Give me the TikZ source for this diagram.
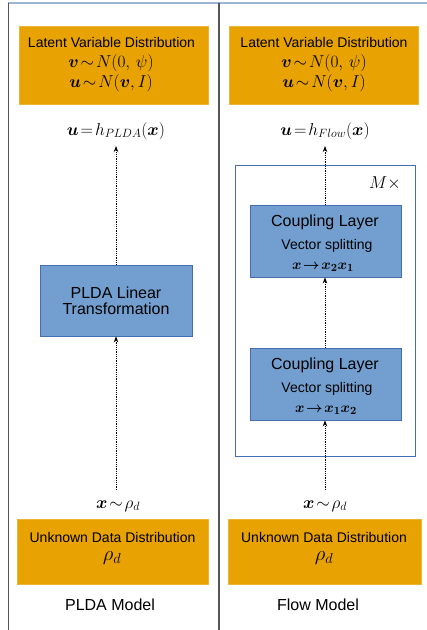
\documentclass[tikz,border=0pt]{standalone}
\usepackage{amsmath,bm}
\usepackage{fontspec}
\setmainfont{Liberation Sans}
\usetikzlibrary{arrows.meta}
\definecolor{orng}{RGB}{232,162,2}
\definecolor{bfill}{RGB}{114,159,207}
\definecolor{bline}{RGB}{70,110,175}
\definecolor{topline}{RGB}{157,180,212}
\definecolor{vline}{RGB}{85,85,85}
\tikzset{
  distbox/.style={fill=orng, draw=orng!80!white, line width=0.6pt, inner sep=0pt},
  bluebox/.style={fill=bfill, draw=bline, line width=0.8pt, inner sep=0pt},
  flowarrow/.style={densely dotted, line width=0.8pt, -{Stealth[length=6pt,width=4.5pt]}},
  txt14/.style={inner sep=0pt, font=\fontsize{14}{16}\selectfont},
  txt16/.style={inner sep=0pt, font=\fontsize{16}{18}\selectfont},
  mth/.style={inner sep=0pt, font=\fontsize{17}{19}\selectfont},
}
\begin{document}
\begin{tikzpicture}[x=1pt,y=-1pt]
\useasboundingbox (0,0) rectangle (427,630);
% frame
\draw[topline, line width=2pt] (8,3) -- (427,3);
\draw[vline, line width=1.5pt] (8.5,3) -- (8.5,630);
\draw[vline, line width=1.5pt] (219,3) -- (219,630);

% ===== left panel =====
\node[distbox, minimum width=189pt, minimum height=78pt] (lat1) at (113.5,65) {};
\node[txt14] (lat1t) at (111.5,42) {Latent Variable Distribution};
\node[mth] (lat1a) at (111,63.5) {$\bm{v}\!\sim\! N(0,\,\psi)$};
\node[mth] (lat1b) at (111,83) {$\bm{u}\!\sim\! N(\bm{v},I)$};
\node[mth] (u1) at (116,131) {$\bm{u}\!=\!h_{PLDA}(\bm{x})$};
\node[bluebox, minimum width=152pt, minimum height=71pt] (plda) at (116,300.5) {};
\node[txt16, align=center] (pldat) at (116,301) {PLDA Linear\\[-2pt]Transformation};
\node[mth] (x1) at (118,506) {$\bm{x}\!\sim\!\rho_d$};
\node[distbox, minimum width=191pt, minimum height=65pt] (unk1) at (112.5,551.5) {};
\node[txt14] (unk1t) at (112.5,537) {Unknown Data Distribution};
\node[font=\fontsize{21}{22}\selectfont, inner sep=0pt] (unk1r) at (112,558) {$\rho_d$};
\node[txt16] (m1) at (110,605) {PLDA Model};
\coordinate (x1top) at (116,490);
\coordinate (u1bot) at (116,146);
\draw[flowarrow] (x1top) -- (plda.south -| x1top);
\draw[flowarrow] (plda.north -| u1bot) -- (u1bot);

% ===== right panel =====
\node[distbox, minimum width=189pt, minimum height=78pt] (lat2) at (323.5,65) {};
\node[txt14] (lat2t) at (324,42) {Latent Variable Distribution};
\node[mth] (lat2a) at (324,63.5) {$\bm{v}\!\sim\! N(0,\,\psi)$};
\node[mth] (lat2b) at (324,83) {$\bm{u}\!\sim\! N(\bm{v},I)$};
\node[mth] (u2) at (325,131) {$\bm{u}\!=\!h_{Flow}(\bm{x})$};
\node[draw=bline, line width=0.8pt, minimum width=180pt, minimum height=291pt, inner sep=0pt] (frame) at (325,310.5) {};
\node[txt16] (mx) at (385,183) {$M\times$};
\node[bluebox, minimum width=151pt, minimum height=72pt] (cl2) at (325.5,241) {};
\node[txt16] (cl2t) at (325,222) {Coupling Layer};
\node[txt14] (cl2v) at (327,246) {Vector splitting};
\node[font=\fontsize{15}{16}\selectfont, inner sep=0pt] (cl2m) at (323,267) {$\bm{x}\!\bm{\rightarrow}\!\bm{x}_{\bm{2}}\bm{x}_{\bm{1}}$};
\node[bluebox, minimum width=151pt, minimum height=72pt] (cl1) at (325.5,384) {};
\node[txt16] (cl1t) at (325,365) {Coupling Layer};
\node[txt14] (cl1v) at (327,389) {Vector splitting};
\node[font=\fontsize{15}{16}\selectfont, inner sep=0pt] (cl1m) at (326,410) {$\bm{x}\!\bm{\rightarrow}\!\bm{x}_{\bm{1}}\bm{x}_{\bm{2}}$};
\node[mth] (x2) at (325,506) {$\bm{x}\!\sim\!\rho_d$};
\node[distbox, minimum width=193pt, minimum height=65pt] (unk2) at (324.5,551.5) {};
\node[txt14] (unk2t) at (324,537) {Unknown Data Distribution};
\node[font=\fontsize{21}{22}\selectfont, inner sep=0pt] (unk2r) at (324,558) {$\rho_d$};
\node[txt16] (m2) at (318,605) {Flow Model};
\coordinate (x2top) at (325,490);
\coordinate (u2bot) at (325,146);
\draw[flowarrow] (x2top) -- (cl1.south -| x2top);
\draw[flowarrow] (cl1.north -| x2top) -- (cl2.south -| x2top);
\draw[flowarrow] (cl2.north -| u2bot) -- (u2bot);
\end{tikzpicture}
\end{document}
